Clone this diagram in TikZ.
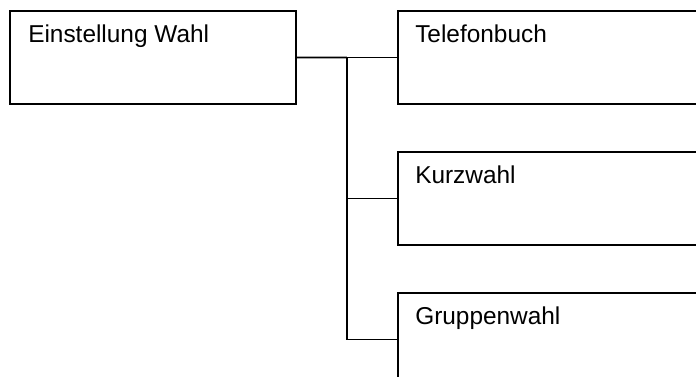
\documentclass[tikz,border=0pt]{standalone}
\usepackage{fontspec}
\setmainfont{Liberation Sans}
\usetikzlibrary{positioning, calc}

\tikzset{
    menubox/.style={draw, line width=1.4pt, anchor=north west, minimum width=#1*0.75pt, minimum height=69.75pt, inner sep=0pt},
    menutext/.style={anchor=base west, font=\fontsize{18.3}{21}\selectfont, inner sep=0pt}
}

\begin{document}
\begin{tikzpicture}[x=0.75pt, y=-0.75pt]
    \useasboundingbox (0,0) rectangle (696,376);
    \clip (0,0) rectangle (696,376);

    % Menu boxes
    \node[menubox=286] (wahl) at (9,10) {};
    \node[menubox=400] (tel) at (397,10) {};
    \node[menubox=400] (kurz) at (397,151) {};
    \node[menubox=400] (gruppe) at (397,292) {};

    \node[menutext] (wahltxt) at ($(wahl.north west)+(19,32)$) {Einstellung Wahl};
    \node[menutext] (teltxt) at ($(tel.north west)+(18,32)$) {Telefonbuch};
    \node[menutext] (kurztxt) at ($(kurz.north west)+(18,32)$) {Kurzwahl};
    \node[menutext] (gruppetxt) at ($(gruppe.north west)+(18,32)$) {Gruppenwahl};

    % Connectors
    \coordinate (split) at ($(wahl.east)!0.5!(tel.west)$);
    \draw[line width=1.4pt] (wahl.east) -- (split);
    \draw[line width=1.4pt] (split) |- (tel.west);
    \draw[line width=1.4pt] (split) |- (kurz.west);
    \draw[line width=1.4pt] (split) |- (gruppe.west);
\end{tikzpicture}
\end{document}
